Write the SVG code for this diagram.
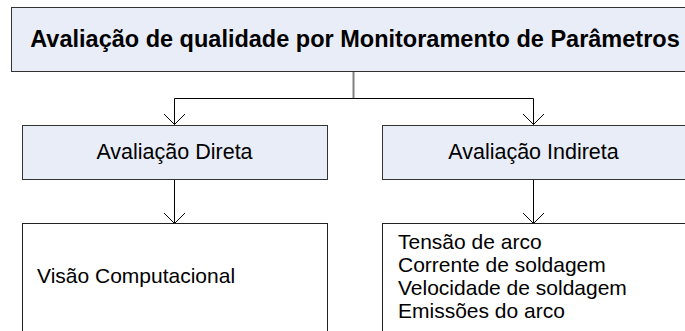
<svg xmlns="http://www.w3.org/2000/svg" width="685" height="331" viewBox="0 0 685 331">
<style>
.box{fill:#e8edf7;stroke:#333;stroke-width:1}
.wbox{fill:#fff;stroke:#222;stroke-width:1}
.t{font-family:"Liberation Sans",Arial,sans-serif;fill:#000}
.c{fill:none;stroke:#000;stroke-width:1}
</style>
<defs>
<marker id="arr" markerWidth="24" markerHeight="24" refX="11" refY="11" orient="auto" markerUnits="userSpaceOnUse" viewBox="0 0 24 24">
<path d="M0,0 L11,11 L22,0" transform="rotate(-90 11 11)" fill="none" stroke="#000" stroke-width="1"/>
</marker>
</defs>
<rect width="685" height="331" fill="#fff"/>
<g id="connectors">
<line x1="353.5" y1="71" x2="353.5" y2="98" stroke="#808080" stroke-width="2"/>
<path class="c" d="M174.5,98.5 H533.5"/>
<path class="c" d="M174.5,98.5 V124.5" marker-end="url(#arr)"/>
<path class="c" d="M533.5,98.5 V124.5" marker-end="url(#arr)"/>
<path class="c" d="M174.5,179 V223.5" marker-end="url(#arr)"/>
<path class="c" d="M533.5,179 V223.5" marker-end="url(#arr)"/>
</g>
<g id="root">
<rect class="box" x="11.5" y="7.5" width="690" height="64"/>
<text class="t" x="355" y="47" text-anchor="middle" font-size="23.5" font-weight="bold">Avaliação de qualidade por Monitoramento de Parâmetros</text>
</g>
<g id="direta">
<rect class="box" x="22.5" y="125.5" width="305" height="54"/>
<text class="t" x="174.5" y="159" text-anchor="middle" font-size="21.5">Avaliação Direta</text>
</g>
<g id="indireta">
<rect class="box" x="382.5" y="125.5" width="320" height="54"/>
<text class="t" x="533.5" y="159" text-anchor="middle" font-size="21.5">Avaliação Indireta</text>
</g>
<g id="visao">
<rect class="wbox" x="22.5" y="223.5" width="305" height="120"/>
<text class="t" x="37" y="283" font-size="21">Visão Computacional</text>
</g>
<g id="parametros">
<rect class="wbox" x="382.5" y="223.5" width="320" height="120"/>
<text class="t" font-size="21"><tspan x="398" y="249">Tensão de arco</tspan><tspan x="398" y="272">Corrente de soldagem</tspan><tspan x="398" y="295">Velocidade de soldagem</tspan><tspan x="398" y="318">Emissões do arco</tspan></text>
</g>
</svg>
